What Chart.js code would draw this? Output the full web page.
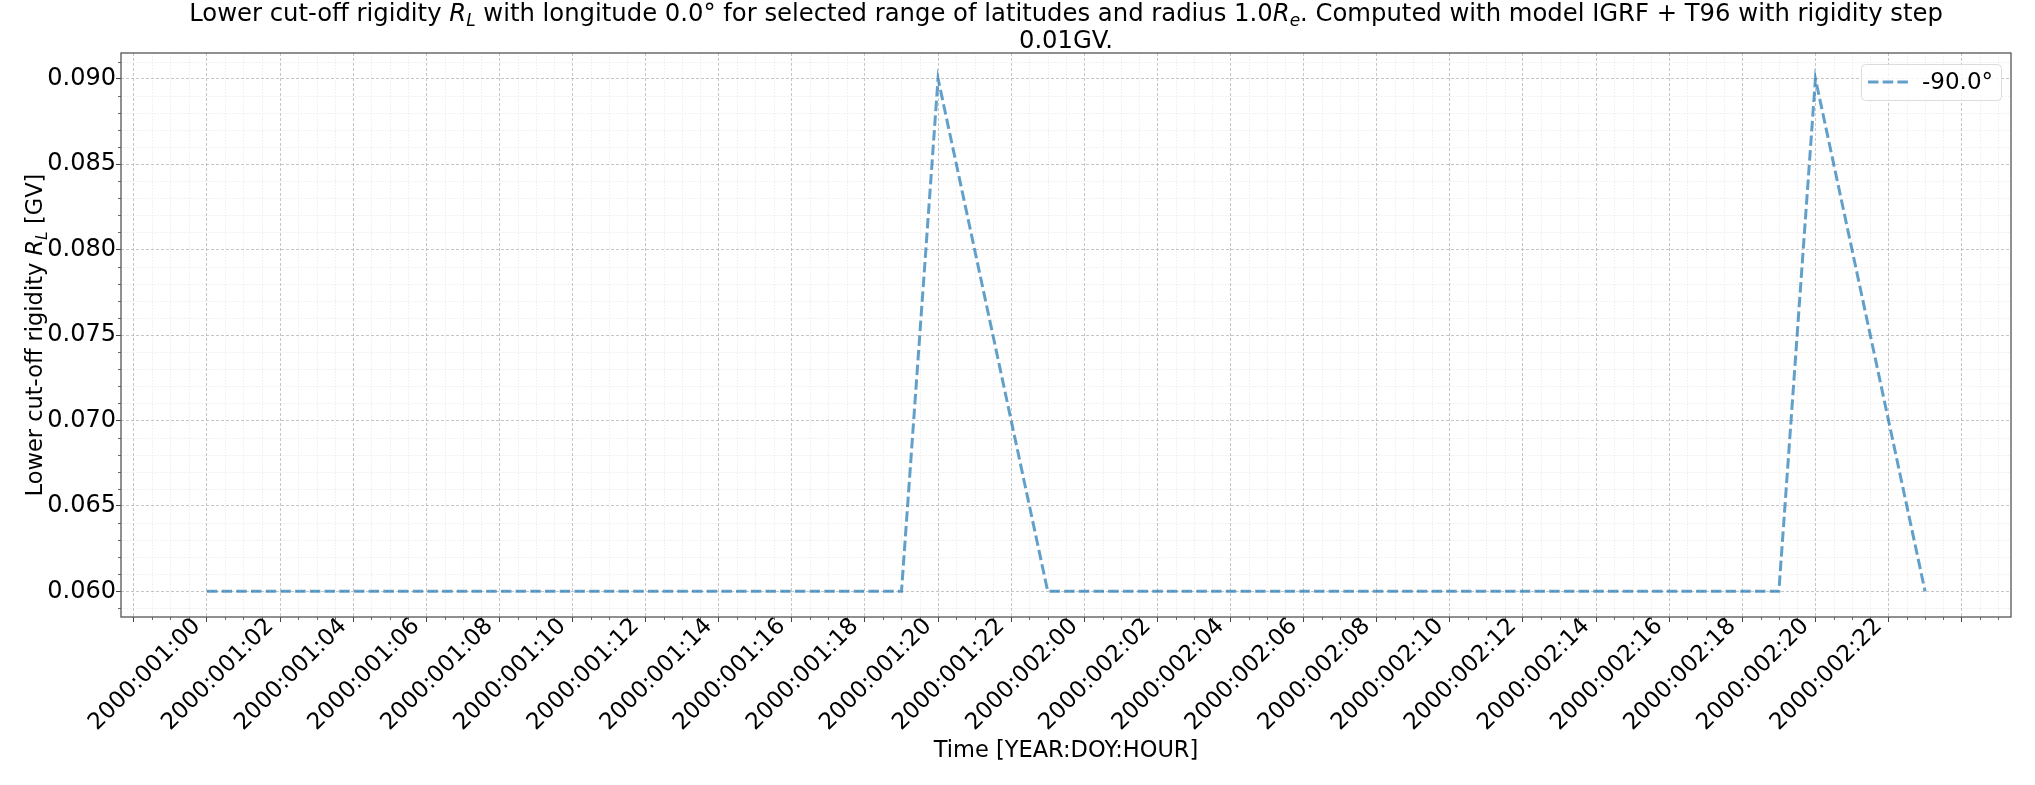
<!DOCTYPE html>
<html>
<head>
<meta charset="utf-8">
<script src="https://cdn.jsdelivr.net/npm/chart.js@4.4.0/dist/chart.umd.min.js"></script>
<style>
  html, body { margin: 0; padding: 0; background: #fff; }
  #wrap { width: 2035px; height: 785px; }
</style>
</head>
<body>
<div id="wrap"><canvas id="chart" width="2035" height="785"></canvas></div>
<script>
// hours since 2000:001:00
const hours = [0, 1, 2, 3, 4, 5, 6, 7, 8, 9, 10, 11, 12, 13, 14, 15, 16, 17, 18, 19, 20, 21, 22, 23,
  24, 25, 26, 27, 28, 29, 30, 31, 32, 33, 34, 35, 36, 37, 38, 39, 40, 41, 42, 43, 44, 45, 46, 47]
// lower cut-off rigidity [GV], latitude -90.0
const cutoff = [0.06, 0.06, 0.06, 0.06, 0.06, 0.06, 0.06, 0.06, 0.06, 0.06, 0.06, 0.06,
  0.06, 0.06, 0.06, 0.06, 0.06, 0.06, 0.06, 0.06, 0.09, 0.08, 0.07, 0.06,
  0.06, 0.06, 0.06, 0.06, 0.06, 0.06, 0.06, 0.06, 0.06, 0.06, 0.06, 0.06,
  0.06, 0.06, 0.06, 0.06, 0.06, 0.06, 0.06, 0.06, 0.09, 0.08, 0.07, 0.06]
const seriesLabel = '-90.0°'

const xTickHours = [-2, 0, 2, 4, 6, 8, 10, 12, 14, 16, 18, 20, 22, 24, 26, 28, 30, 32, 34, 36, 38, 40, 42, 44, 46, 48]
const xTickLabels = ['', '2000:001:00', '2000:001:02', '2000:001:04', '2000:001:06', '2000:001:08',
  '2000:001:10', '2000:001:12', '2000:001:14', '2000:001:16', '2000:001:18', '2000:001:20',
  '2000:001:22', '2000:002:00', '2000:002:02', '2000:002:04', '2000:002:06', '2000:002:08',
  '2000:002:10', '2000:002:12', '2000:002:14', '2000:002:16', '2000:002:18', '2000:002:20',
  '2000:002:22', '']
const yTicks = [0.060, 0.065, 0.070, 0.075, 0.080, 0.085, 0.090]
const yTickLabels = ['0.060', '0.065', '0.070', '0.075', '0.080', '0.085', '0.090']

const FONT = "'DejaVu Sans', sans-serif"
const TITLE_FS = 24.3
const XTICK_FS = 23
const YTICK_FS = 24
const LABEL_FS = 22.5

// text with matplotlib style math parts: it = italic, sub = subscript
function richText(ctx, parts, x, y, align, fs) {
  const fontOf = p => (p.it ? 'italic ' : '') + (p.sub ? fs * 0.7 : fs) + 'px ' + FONT
  let w = 0
  parts.forEach(p => { ctx.font = fontOf(p); p.w = ctx.measureText(p.t).width; w += p.w })
  let cx = align == 'center' ? x - w / 2 : x
  ctx.textAlign = 'left'
  ctx.textBaseline = 'alphabetic'
  parts.forEach(p => {
    ctx.font = fontOf(p)
    ctx.fillText(p.t, cx, y + (p.sub ? fs * 0.2 : 0))
    cx += p.w
  })
}

const titleLine1 = [
  {t: 'Lower cut-off rigidity '}, {t: 'R', it: true}, {t: 'L', it: true, sub: true},
  {t: ' with longitude 0.0° for selected range of latitudes and radius 1.0'},
  {t: 'R', it: true}, {t: 'e', it: true, sub: true},
  {t: '. Computed with model IGRF + T96 with rigidity step'}
]
const titleLine2 = [{t: '0.01GV.'}]
const yTitle = [{t: 'Lower cut-off rigidity '}, {t: 'R', it: true}, {t: 'L', it: true, sub: true}, {t: ' [GV]'}]

const decor = {
  id: 'decor',
  beforeDraw(chart) {
    const {ctx, chartArea: a, scales: {x, y}} = chart
    ctx.save()
    ctx.strokeStyle = '#e6e6e6'
    ctx.lineWidth = 0.7
    ctx.setLineDash([1.5, 1.5])
    for (let h = -2; h <= 49; h += 0.5) {
      if (h % 2 == 0) continue
      const px = Math.round(x.getPixelForValue(h)) + 0.5
      if (px < a.left || px > a.right) continue
      ctx.beginPath(); ctx.moveTo(px, a.top); ctx.lineTo(px, a.bottom); ctx.stroke()
    }
    for (let k = 59; k <= 91; k++) {
      if (k % 5 == 0) continue
      const py = Math.round(y.getPixelForValue(k / 1000)) + 0.5
      if (py < a.top || py > a.bottom) continue
      ctx.beginPath(); ctx.moveTo(a.left, py); ctx.lineTo(a.right, py); ctx.stroke()
    }
    // minor tick marks
    ctx.setLineDash([])
    ctx.strokeStyle = '#444'
    ctx.lineWidth = 0.8
    for (let h = -2; h <= 49; h += 0.5) {
      if (h % 2 == 0) continue
      const px = Math.round(x.getPixelForValue(h)) + 0.5
      if (px < a.left || px > a.right) continue
      ctx.beginPath(); ctx.moveTo(px, a.bottom); ctx.lineTo(px, a.bottom + 3); ctx.stroke()
    }
    for (let k = 59; k <= 91; k++) {
      if (k % 5 == 0) continue
      const py = Math.round(y.getPixelForValue(k / 1000)) + 0.5
      if (py < a.top || py > a.bottom) continue
      ctx.beginPath(); ctx.moveTo(a.left, py); ctx.lineTo(a.left - 3, py); ctx.stroke()
    }
    ctx.restore()
  },
  afterDraw(chart) {
    const {ctx, chartArea: a} = chart
    ctx.save()
    // spines
    ctx.strokeStyle = '#555'
    ctx.lineWidth = 1.3
    ctx.strokeRect(a.left, a.top, a.right - a.left, a.bottom - a.top)
    // title
    ctx.fillStyle = '#000'
    const cx = (a.left + a.right) / 2
    richText(ctx, titleLine1, cx, 21, 'center', TITLE_FS)
    richText(ctx, titleLine2, cx, 48, 'center', TITLE_FS)
    // axis titles
    ctx.font = LABEL_FS + 'px ' + FONT
    ctx.textAlign = 'center'
    ctx.fillText('Time [YEAR:DOY:HOUR]', cx, 757)
    ctx.save()
    ctx.translate(42, (a.top + a.bottom) / 2)
    ctx.rotate(-Math.PI / 2)
    richText(ctx, yTitle, 0, 0, 'center', LABEL_FS)
    ctx.restore()
    // legend
    const ds = chart.data.datasets[0]
    ctx.fillStyle = 'rgba(255,255,255,0.8)'
    ctx.strokeStyle = '#dcdcdc'
    ctx.lineWidth = 1
    ctx.beginPath()
    ctx.roundRect(1861.5, 64.5, 140, 36, 4)
    ctx.fill(); ctx.stroke()
    ctx.strokeStyle = ds.borderColor
    ctx.lineWidth = ds.borderWidth
    ctx.setLineDash(ds.borderDash)
    ctx.beginPath(); ctx.moveTo(1868, 82); ctx.lineTo(1908, 82); ctx.stroke()
    ctx.setLineDash([])
    ctx.fillStyle = '#000'
    ctx.font = '23px ' + FONT
    ctx.textAlign = 'left'
    ctx.textBaseline = 'middle'
    ctx.fillText(ds.label, 1922, 83)
    ctx.restore()
  }
}

new Chart(document.getElementById('chart'), {
  type: 'line',
  data: {
    datasets: [{
      label: seriesLabel,
      data: hours.map((h, i) => ({x: h, y: cutoff[i]})),
      borderColor: 'rgba(31,119,180,0.7)',
      borderWidth: 3,
      borderDash: [10.5, 4.2],
      pointRadius: 0,
      tension: 0,
      fill: false
    }]
  },
  options: {
    responsive: false,
    animation: false,
    devicePixelRatio: 1,
    layout: {padding: {left: 0, top: 53, right: 24, bottom: 0}},
    plugins: {legend: {display: false}, title: {display: false}, tooltip: {enabled: false}},
    scales: {
      x: {
        type: 'linear',
        min: -2.35,
        max: 49.35,
        afterBuildTicks: s => { s.ticks = xTickHours.map(v => ({value: v})) },
        afterFit: s => { s.height = 168 },
        grid: {color: '#b8b8b8', lineWidth: 0.8, tickLength: 5, tickColor: '#444', tickWidth: 1},
        border: {display: false, dash: [3, 2]},
        ticks: {
          autoSkip: false, minRotation: 45, maxRotation: 45, padding: -9, labelOffset: -10,
          color: '#000',
          font: {family: FONT, size: XTICK_FS},
          callback: (v) => xTickLabels[xTickHours.indexOf(v)]
        }
      },
      y: {
        type: 'linear',
        min: 0.0585,
        max: 0.0915,
        afterBuildTicks: s => { s.ticks = yTicks.map(v => ({value: v})) },
        afterFit: s => { s.width = 121 },
        grid: {color: '#b8b8b8', lineWidth: 0.8, tickLength: 5, tickColor: '#444', tickWidth: 1},
        border: {display: false, dash: [3, 2]},
        ticks: {
          padding: 0, color: '#000',
          font: {family: FONT, size: YTICK_FS},
          callback: (v) => yTickLabels[yTicks.indexOf(v)]
        }
      }
    }
  },
  plugins: [decor]
})
</script>
</body>
</html>
